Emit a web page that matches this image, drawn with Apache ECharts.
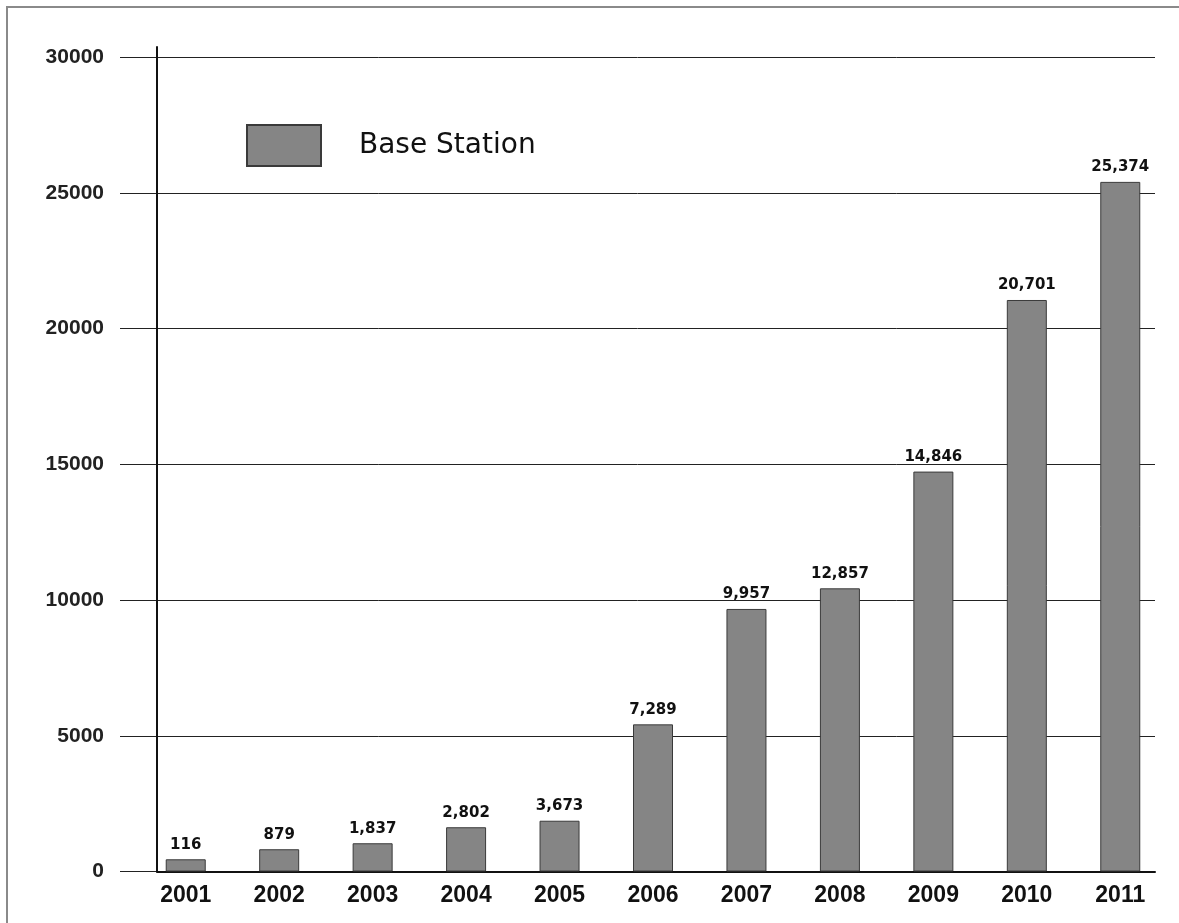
<!DOCTYPE html>
<html>
<head>
<meta charset="utf-8">
<script src="https://cdn.jsdelivr.net/npm/echarts@6/dist/echarts.min.js"></script>
<style>
  html, body { margin: 0; padding: 0; background: #ffffff; }
  #chart { width: 1179px; height: 923px; }
</style>
</head>
<body>
<div id="chart"></div>
<script>
// Categories (years)
var years = ['2001', '2002', '2003', '2004', '2005', '2006', '2007', '2008', '2009', '2010', '2011'];
// Bar heights as drawn in the picture (read against the y axis)
var barHeights = [450, 820, 1040, 1630, 1870, 5420, 9670, 10430, 14730, 21050, 25400];
// Value labels as printed above each bar
var labelTexts = ['116', '879', '1,837', '2,802', '3,673', '7,289', '9,957', '12,857', '14,846', '20,701', '25,374'];
// Y axis ticks
var yMin = 0, yMax = 30000, yStep = 5000;
var seriesName = 'Base Station';

var chart = echarts.init(document.getElementById('chart'), null, { renderer: 'canvas' });

var option = {
  backgroundColor: '#ffffff',
  animation: false,
  graphic: [{
    type: 'rect',
    shape: { x: 7, y: 7, width: 1400, height: 1400 },
    style: { fill: 'none', stroke: '#8a8a8a', lineWidth: 2 },
    silent: true
  }],
  legend: {
    data: [seriesName],
    left: 246,
    top: 124,
    padding: 0,
    itemWidth: 74,
    itemHeight: 41,
    icon: 'rect',
    selectedMode: false,
    textStyle: {
      fontFamily: 'DejaVu Sans',
      fontSize: 28,
      color: '#111',
      padding: [0, 0, 0, 33]
    }
  },
  grid: [
    // grid 0: horizontal gridlines + y tick labels
    { left: 120, right: 24, top: 57, bottom: 51.5 },
    // grid 1: the two black axis lines
    { left: 157, right: 24, top: 47, bottom: 51.5 },
    // grid 2: bars + category labels
    { left: 139, right: 12, top: 57, bottom: 51.5 }
  ],
  xAxis: [
    { gridIndex: 0, type: 'value', show: false },
    {
      gridIndex: 1, type: 'value', min: 0, max: 1,
      axisLine: { show: true, lineStyle: { color: '#111', width: 2 } },
      axisTick: { show: false }, axisLabel: { show: false }, splitLine: { show: false }
    },
    {
      gridIndex: 2, type: 'category', data: years,
      axisLine: { show: false }, axisTick: { show: false }, splitLine: { show: false },
      axisLabel: {
        margin: 13,
        fontFamily: 'Liberation Sans, Arial, sans-serif',
        fontWeight: 'bold',
        fontSize: 23,
        color: '#111'
      }
    }
  ],
  yAxis: [
    {
      gridIndex: 0, type: 'value', min: yMin, max: yMax, interval: yStep,
      axisLine: { show: false }, axisTick: { show: false },
      splitLine: { show: true, lineStyle: { color: '#222', width: 1 } },
      axisLabel: {
        margin: 16,
        fontFamily: 'Liberation Sans, Arial, sans-serif',
        fontWeight: 'bold',
        fontSize: 21,
        color: '#222',
        formatter: function (v) { return String(v); }
      }
    },
    {
      gridIndex: 1, type: 'value', min: 0, max: 1,
      axisLine: { show: true, lineStyle: { color: '#111', width: 2 } },
      axisTick: { show: false }, axisLabel: { show: false }, splitLine: { show: false }
    },
    {
      gridIndex: 2, type: 'value', min: yMin, max: yMax, interval: yStep, show: false
    }
  ],
  series: [{
    name: seriesName,
    type: 'bar',
    xAxisIndex: 2,
    yAxisIndex: 2,
    data: barHeights,
    barWidth: 40,
    itemStyle: {
      color: '#858585',
      borderColor: '#3a3a3a',
      borderWidth: 1
    },
    label: {
      show: true,
      position: 'top',
      distance: 7,
      fontFamily: 'DejaVu Sans',
      fontWeight: 'bold',
      fontSize: 15,
      color: '#111',
      formatter: function (p) { return labelTexts[p.dataIndex]; }
    }
  }]
};

chart.setOption(option);
</script>
</body>
</html>
